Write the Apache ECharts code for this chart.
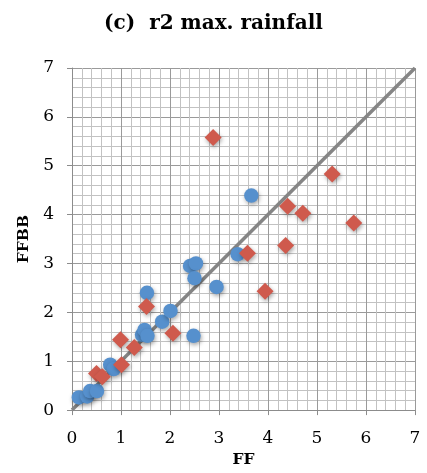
<!DOCTYPE html>
<html>
<head>
<meta charset="utf-8">
<script src="https://cdn.jsdelivr.net/npm/echarts@6/dist/echarts.min.js"></script>
<style>
html,body{margin:0;padding:0;background:#fff;}
#c{width:427px;height:473px;}
</style>
</head>
<body>
<div id="c"></div>
<script>
const titleText = '(c)  r2 max. rainfall';
const xName = 'FF';
const yName = 'FFBB';
const tickValues = [0, 1, 2, 3, 4, 5, 6, 7];

const blueX = [0.14, 0.31, 0.37, 0.51, 0.78, 0.85, 1.43, 1.48, 1.54, 1.53, 1.84, 2.01, 2.48, 2.41, 2.53, 2.50, 2.95, 3.38, 3.66];
const blueY = [0.26, 0.28, 0.39, 0.39, 0.93, 0.84, 1.54, 1.64, 1.52, 2.40, 1.81, 2.03, 1.52, 2.95, 3.00, 2.70, 2.52, 3.19, 4.39];

const redX = [0.50, 0.62, 1.01, 0.99, 1.27, 1.52, 2.06, 2.88, 3.58, 3.94, 4.36, 4.40, 4.71, 5.31, 5.75];
const redY = [0.75, 0.68, 0.93, 1.44, 1.28, 2.12, 1.57, 5.58, 3.21, 2.43, 3.37, 4.17, 4.03, 4.83, 3.83];

const lineX = [0, 7];
const lineY = [0, 7];

const zip = (a, b) => a.map((v, i) => [v, b[i]]);
const serif = 'DejaVu Serif';

const axisCommon = {
  min: 0, max: 7, interval: 1,
  axisLine: { show: true, lineStyle: { color: '#8c8c8c', width: 1 } },
  axisTick: { show: true, length: 5, lineStyle: { color: '#8c8c8c' } },
  splitLine: { show: true, lineStyle: { color: '#9a9a9a', width: 1 } },
  minorTick: { show: true, splitNumber: 5, length: 0 },
  minorSplitLine: { show: true, lineStyle: { color: '#c2c2c2', width: 1 } },
  nameTextStyle: { fontFamily: serif, fontWeight: 'bold', fontSize: 15.5, color: '#000' },
  axisLabel: { fontFamily: serif, fontSize: 17, color: '#000',
    formatter: v => tickValues.indexOf(v) >= 0 ? String(v) : '' }
};

const shadow = { shadowBlur: 4, shadowColor: 'rgba(0,0,0,0.35)', shadowOffsetX: 1, shadowOffsetY: 2 };

const chart = echarts.init(document.getElementById('c'));
chart.setOption({
  animation: false,
  backgroundColor: '#fff',
  title: {
    text: titleText, left: 'center', top: 9,
    textStyle: { fontFamily: serif, fontWeight: 'bold', fontSize: 20, color: '#000' }
  },
  grid: { left: 72, right: 12, top: 68, bottom: 58.5 },
  xAxis: Object.assign({}, axisCommon, {
    type: 'value', name: xName, nameLocation: 'middle', nameGap: 40,
    axisLabel: Object.assign({}, axisCommon.axisLabel, { margin: 20 })
  }),
  yAxis: Object.assign({}, axisCommon, {
    type: 'value', name: yName, nameLocation: 'middle', nameGap: 39,
    axisLabel: Object.assign({}, axisCommon.axisLabel, { margin: 18 })
  }),
  series: [
    {
      type: 'line', data: zip(lineX, lineY), symbol: 'none', silent: true,
      lineStyle: { color: '#858585', width: 3.5 }, z: 2
    },
    {
      type: 'scatter', data: zip(blueX, blueY), symbol: 'circle', symbolSize: 14.5,
      itemStyle: Object.assign({ color: '#5690cd', opacity: 1 }, shadow), z: 3
    },
    {
      type: 'scatter', data: zip(redX, redY), symbol: 'diamond', symbolSize: [17, 17],
      itemStyle: Object.assign({ color: '#cf5a4d', opacity: 1 }, shadow), z: 4
    }
  ]
});
</script>
</body>
</html>
